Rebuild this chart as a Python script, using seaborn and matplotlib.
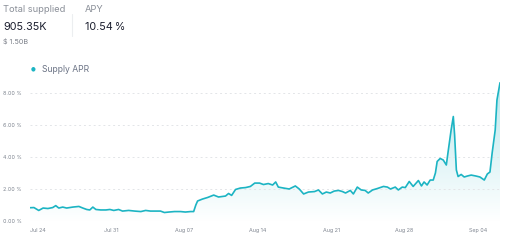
import matplotlib
matplotlib.use("Agg")
import matplotlib.pyplot as plt
import matplotlib.dates as mdates
from matplotlib.colors import LinearSegmentedColormap
import numpy as np
import pandas as pd
import seaborn as sns

# ---- data ----
times = [
    "07-23 06:00", "07-23 15:00", "07-24 02:00", "07-24 12:00", "07-24 23:00",
    "07-25 10:00", "07-25 17:00", "07-26 00:00", "07-26 09:00", "07-26 18:00",
    "07-27 08:00", "07-27 22:00", "07-28 07:00", "07-28 16:00", "07-28 23:00",
    "07-29 06:00", "07-29 13:00", "07-30 00:00", "07-30 12:00", "07-30 21:00",
    "07-31 06:00", "07-31 17:00", "08-01 02:00", "08-01 16:00", "08-02 06:00",
    "08-02 20:00", "08-03 07:00", "08-03 18:00", "08-04 08:00", "08-04 17:00",
    "08-05 02:00", "08-05 12:00", "08-06 01:00", "08-06 15:00", "08-07 02:00",
    "08-07 14:00", "08-07 21:00", "08-08 02:00", "08-08 06:00", "08-08 17:00",
    "08-09 05:00", "08-09 19:00", "08-10 06:00", "08-10 22:00", "08-11 05:00",
    "08-11 12:00", "08-11 21:00", "08-12 08:00", "08-12 20:00", "08-13 07:00",
    "08-13 17:00", "08-14 04:00", "08-14 13:00", "08-15 00:00", "08-15 10:00",
    "08-15 17:00", "08-15 23:00", "08-16 11:00", "08-17 00:00", "08-17 14:00",
    "08-17 23:00", "08-18 09:00", "08-18 20:00", "08-19 10:00", "08-19 19:00",
    "08-20 04:00", "08-20 13:00", "08-20 22:00", "08-21 07:00", "08-21 17:00",
    "08-22 02:00", "08-22 09:00", "08-22 20:00", "08-23 03:00", "08-23 12:00",
    "08-23 21:00", "08-24 06:00", "08-24 13:00", "08-24 23:00", "08-25 10:00",
    "08-26 00:00", "08-26 09:00", "08-26 16:00", "08-27 03:00", "08-27 10:00",
    "08-27 19:00", "08-28 02:00", "08-28 11:00", "08-28 20:00", "08-29 08:00",
    "08-29 15:00", "08-29 21:00", "08-30 04:00", "08-30 11:00", "08-30 18:00",
    "08-30 23:00", "08-31 03:00", "08-31 10:00", "08-31 17:00", "09-01 00:00",
    "09-01 04:00", "09-01 11:00", "09-01 16:00", "09-01 19:00", "09-01 23:00",
    "09-02 03:00", "09-02 10:00", "09-02 17:00", "09-03 00:00", "09-03 09:00",
    "09-03 20:00", "09-04 05:00", "09-04 15:00", "09-04 22:00", "09-05 04:00",
    "09-05 09:00", "09-05 16:00", "09-05 20:00", "09-06 03:00",
]
supply_apr = [
    0.83, 0.84, 0.66, 0.81, 0.78,
    0.84, 0.96, 0.81, 0.87, 0.81,
    0.87, 0.91, 0.81, 0.72, 0.69,
    0.87, 0.72, 0.69, 0.69, 0.72,
    0.66, 0.72, 0.62, 0.66, 0.62,
    0.59, 0.66, 0.62, 0.62, 0.62,
    0.53, 0.56, 0.59, 0.59, 0.56,
    0.59, 0.59, 1.00, 1.25, 1.37,
    1.47, 1.62, 1.50, 1.56, 1.72,
    1.60, 1.97, 2.06, 2.09, 2.16,
    2.37, 2.37, 2.28, 2.34, 2.25,
    2.44, 2.12, 2.06, 2.00, 2.19,
    2.00, 1.69, 1.81, 1.84, 1.94,
    1.69, 1.81, 1.75, 1.87, 1.91,
    1.84, 1.75, 1.91, 1.69, 2.12,
    1.94, 1.91, 1.75, 1.94, 2.03,
    2.16, 2.12, 2.00, 2.12, 1.94,
    2.12, 2.09, 2.47, 2.16, 2.53,
    2.19, 2.44, 2.25, 2.56, 2.56,
    3.00, 3.72, 3.91, 3.81, 3.50,
    4.31, 5.69, 6.53, 5.37, 3.19,
    2.78, 2.91, 2.75, 2.81, 2.87,
    2.81, 2.75, 2.56, 2.94, 3.06,
    4.25, 5.69, 7.56, 8.64,
]
y_ticks = [0, 2, 4, 6, 8]
x_ticks = ["2023-07-24", "2023-07-31", "2023-08-07", "2023-08-14",
           "2023-08-21", "2023-08-28", "2023-09-04"]

df = pd.DataFrame({
    "time": pd.to_datetime(["2023-" + t for t in times]),
    "apr": supply_apr,
})

LINE = "#1cb4c3"
sns.set_theme(style="white")
plt.rcParams["font.family"] = ["Inter", "DejaVu Sans"]

fig = plt.figure(figsize=(5.12, 2.52), dpi=100)
ax = fig.add_axes([30 / 512, 1 - 221 / 252, 470 / 512, 144 / 252])

sns.lineplot(data=df, x="time", y="apr", ax=ax, color=LINE, linewidth=1.2)

# gradient fill under the line
xnum = mdates.date2num(df["time"])
poly = ax.fill_between(xnum, df["apr"], 0, color="none")
cmap = LinearSegmentedColormap.from_list("g", ["#ffffff", "#b8e7ec"])
grad = np.linspace(0, 1, 256).reshape(-1, 1)
im = ax.imshow(grad, cmap=cmap, aspect="auto", origin="lower",
               extent=[xnum[0], xnum[-1], 0, 9], zorder=0)
im.set_clip_path(poly.get_paths()[0], transform=ax.transData)

ax.set_xlim(xnum[0], xnum[-1])
ax.set_ylim(0, 9)
ax.set_yticks(y_ticks)
ax.set_yticklabels([f"{v:.2f} %" for v in y_ticks])
ax.set_xticks(mdates.date2num(pd.to_datetime(x_ticks)))
ax.xaxis.set_major_formatter(mdates.DateFormatter("%b %d"))
ax.tick_params(axis="both", length=0, labelsize=3.9, labelcolor="#7f8590")
ax.tick_params(axis="y", pad=19.4)
ax.tick_params(axis="x", pad=5)
for lbl in ax.get_yticklabels():
    lbl.set_horizontalalignment("left")
ax.grid(axis="y", color="#e3e5e8", linestyle=(0, (2, 3)), linewidth=0.7)
ax.grid(axis="x", visible=False)
for s in ax.spines.values():
    s.set_visible(False)
ax.set_xlabel("")
ax.set_ylabel("")

# header texts
fig.text(3 / 512, 1 - 9 / 252, "Total supplied", fontsize=6.7, color="#8a8f98",
         va="center", ha="left")
fig.text(3 / 512, 1 - 27 / 252, "905.35K", fontsize=7.8, color="#1b1e2e",
         va="center", ha="left")
fig.text(3 / 512, 1 - 41 / 252, "$ 1.50B", fontsize=5.2, color="#7a7f88",
         va="center", ha="left")
fig.add_artist(plt.Line2D([72 / 512, 72 / 512], [1 - 14 / 252, 1 - 36 / 252],
                          color="#eceef0", linewidth=0.8))
fig.text(85 / 512, 1 - 9 / 252, "APY", fontsize=6.7, color="#8a8f98",
         va="center", ha="left")
fig.text(85 / 512, 1 - 27 / 252, "10.54\u2009%", fontsize=7.8, color="#1b1e2e",
         va="center", ha="left")

# legend
fig.text(33 / 512, 1 - 69 / 252, "●", fontsize=4, color=LINE, va="center",
         ha="center", family="DejaVu Sans")
fig.text(42 / 512, 1 - 69 / 252, "Supply APR", fontsize=6.2, color="#6b7385",
         va="center", ha="left")

fig.savefig("out.png", dpi=100)
